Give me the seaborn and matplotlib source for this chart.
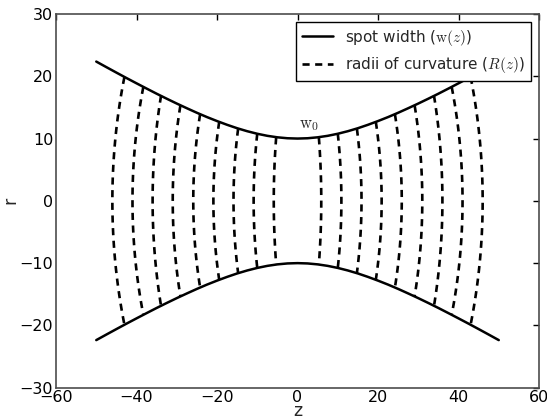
import numpy as np
import pandas as pd
import matplotlib
matplotlib.use("Agg")
import matplotlib.pyplot as plt
import seaborn as sns

# Beam radius (spot width)
z_beam = [-50, -47.5, -45, -42.5, -40, -37.5, -35, -32.5, -30, -27.5, -25, -22.5, -20,
          -17.5, -15, -12.5, -10, -7.5, -5, -2.5, 0, 2.5, 5, 7.5, 10, 12.5, 15, 17.5,
          20, 22.5, 25, 27.5, 30, 32.5, 35, 37.5, 40, 42.5, 45, 47.5, 50]
w_beam = [22.36, 21.47, 20.59, 19.72, 18.87, 18.03, 17.20, 16.40, 15.62, 14.87, 14.14,
          13.45, 12.81, 12.21, 11.66, 11.18, 10.77, 10.44, 10.20, 10.05, 10.00, 10.05,
          10.20, 10.44, 10.77, 11.18, 11.66, 12.21, 12.81, 13.45, 14.14, 14.87, 15.62,
          16.40, 17.20, 18.03, 18.87, 19.72, 20.59, 21.47, 22.36]

# Wavefront arcs (read): position on axis, position at the beam edge, half height
arc_vertex = [5.9, 10.9, 15.9, 20.9, 25.9, 31.0, 36.0, 41.0, 46.0]
arc_edge = [5.3, 10.0, 14.75, 19.45, 24.2, 29.1, 33.9, 38.3, 43.0]
arc_half = [10.2, 10.8, 11.6, 12.7, 13.9, 15.3, 16.9, 18.3, 19.9]

x_ticks = [-60, -40, -20, 0, 20, 40, 60]
y_ticks = [-30, -20, -10, 0, 10, 20, 30]

sns.set_style("white")
plt.rcParams["font.family"] = ["DejaVu Sans"]
plt.rcParams["mathtext.fontset"] = "cm"

fig = plt.figure(figsize=(5.47, 4.20), dpi=100)
ax = fig.add_axes([0.1024, 0.0769, 0.8830, 0.8898])

df_top = pd.DataFrame({"z": z_beam, "r": w_beam})
df_bot = pd.DataFrame({"z": z_beam, "r": [-v for v in w_beam]})
sns.lineplot(data=df_top, x="z", y="r", color="black", lw=1.8, sort=False,
             estimator=None, ax=ax, label="spot width ($\\mathrm{w}(z)$)")
sns.lineplot(data=df_bot, x="z", y="r", color="black", lw=1.8, sort=False,
             estimator=None, ax=ax, label="_nolegend_")

first = True
for side in (-1, 1):
    for v, e, h in zip(arc_vertex, arc_edge, arc_half):
        d = v - e
        R = (h * h + d * d) / (2 * d)
        zc = side * (v - R)
        alpha = np.arcsin(h / R)
        th = np.linspace(alpha, -alpha, 60)
        df = pd.DataFrame({"z": zc + side * R * np.cos(th), "r": R * np.sin(th)})
        sns.lineplot(data=df, x="z", y="r", color="black", lw=1.9, sort=False,
                     estimator=None, ax=ax, linestyle=(0, (2.7, 2.1)),
                     label=("radii of curvature ($R(z)$)" if (first and side == -1) else "_nolegend_"))
        first = False

ax.text(0.3, 10.9, "$\\mathrm{w}_0$", fontsize=12, ha="left", va="bottom")

ax.set_xlim(-60, 60)
ax.set_ylim(-30, 30)
ax.set_xticks(x_ticks)
ax.set_yticks(y_ticks)
ax.set_xticklabels(["\u2212" + str(-t) if t < 0 else str(t) for t in x_ticks])
ax.set_yticklabels(["\u2212" + str(-t) if t < 0 else str(t) for t in y_ticks])
ax.tick_params(direction="in", length=4, width=1, top=True, right=True,
               labelsize=11.5, colors="black", pad=2)
for sp in ax.spines.values():
    sp.set_visible(True)
    sp.set_color("0.3")
    sp.set_linewidth(1.2)
ax.set_xlabel("z", fontsize=12.5)
ax.set_ylabel("r", fontsize=12.5)
ax.xaxis.set_label_coords(0.5, -0.037)
ax.yaxis.set_label_coords(-0.076, 0.5)

leg = ax.legend(loc="upper right", fontsize=11, fancybox=False, framealpha=1,
                edgecolor="black", handlelength=2.0, borderaxespad=0.5,
                labelspacing=0.5)
leg.get_frame().set_linewidth(1.0)

fig.savefig("out.png", dpi=100, facecolor="white")
